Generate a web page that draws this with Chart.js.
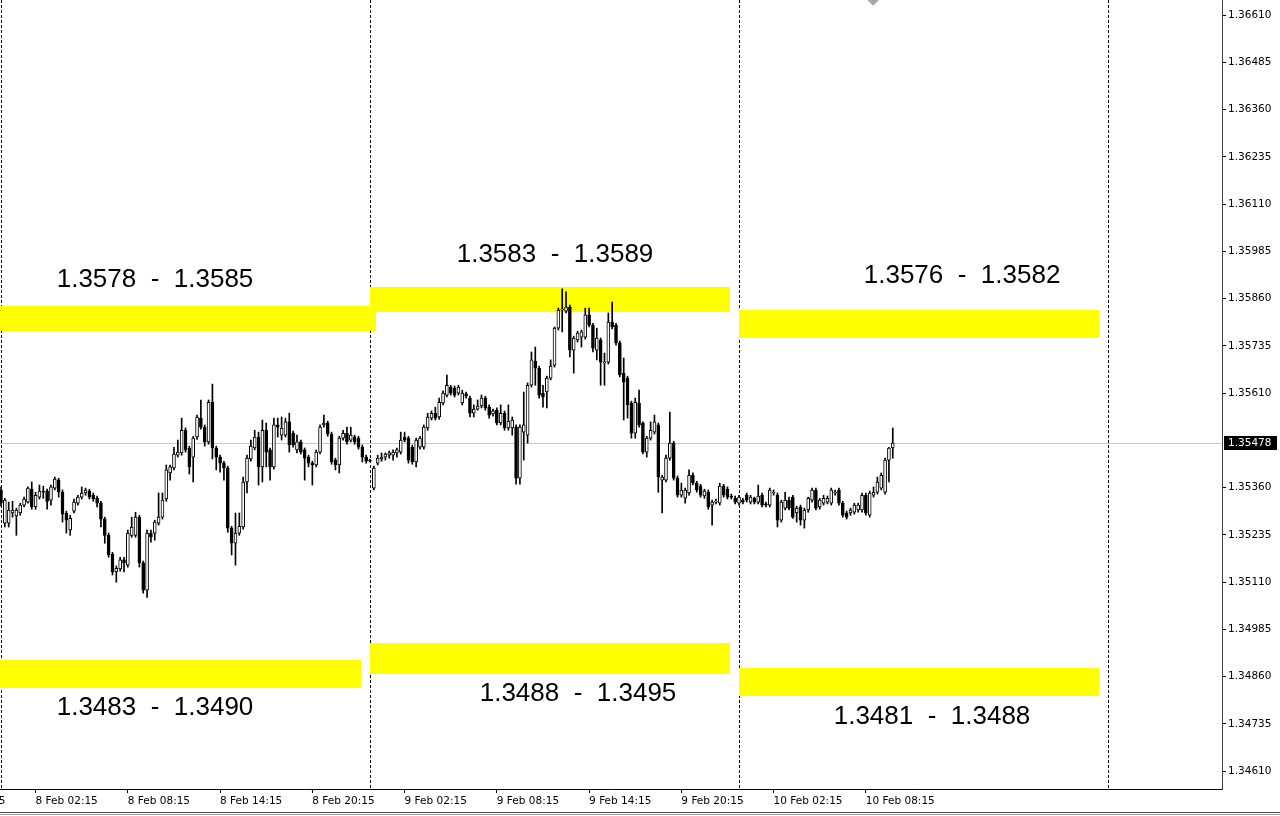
<!DOCTYPE html>
<html><head><meta charset="utf-8">
<script src="https://cdn.jsdelivr.net/npm/chart.js@4.4.1/dist/chart.umd.min.js"></script>
<style>html,body{margin:0;padding:0;background:#fff;overflow:hidden}#wrap{position:relative;width:1280px;height:816px}</style>
</head><body><div id="wrap"><canvas id="c" width="1280" height="816"></canvas></div>
<script>
// ---- M15 candles, 8 Feb 00:00 onward (index 0 = 8 Feb 00:00) ----
const opens = [1.35354,1.35266,1.35266,1.35293,1.35285,1.35293,1.35314,1.35322,1.35356,1.35309,
1.35335,1.35351,1.35351,1.35327,1.35359,1.35380,1.35348,1.35293,1.35248,1.35298,
1.35319,1.35335,1.35346,1.35351,1.35340,1.35332,1.35319,1.35277,1.35234,1.35184,
1.35137,1.35145,1.35169,1.35155,1.35234,1.35234,1.35282,1.35161,1.35089,1.35240,
1.35240,1.35266,1.35282,1.35330,1.35399,1.35412,1.35446,1.35452,1.35512,1.35465,
1.35441,1.35494,1.35544,1.35520,1.35481,1.35586,1.35465,1.35441,1.35425,1.35412,
1.35253,1.35213,1.35240,1.35256,1.35375,1.35436,1.35465,1.35494,1.35415,1.35512,
1.35460,1.35415,1.35526,1.35499,1.35499,1.35534,1.35504,1.35460,1.35481,1.35460,
1.35441,1.35425,1.35420,1.35454,1.35526,1.35531,1.35502,1.35433,1.35420,1.35491,
1.35504,1.35486,1.35494,1.35491,1.35467,1.35441,1.35433,1.35359,1.35425,1.35436,
1.35441,1.35446,1.35446,1.35452,1.35454,1.35494,1.35491,1.35467,1.35428,1.35467,
1.35467,1.35518,1.35544,1.35557,1.35547,1.35584,1.35605,1.35626,1.35623,1.35610,
1.35584,1.35608,1.35597,1.35557,1.35568,1.35576,1.35597,1.35573,1.35555,1.35565,
1.35531,1.35557,1.35518,1.35518,1.35520,1.35385,1.35507,1.35499,1.35631,1.35695,
1.35676,1.35610,1.35613,1.35650,1.35684,1.35782,1.35830,1.35827,1.35838,1.35724,
1.35751,1.35758,1.35758,1.35817,1.35790,1.35724,1.35751,1.35690,1.35692,1.35798,
1.35790,1.35743,1.35663,1.35650,1.35584,1.35504,1.35584,1.35531,1.35454,1.35491,
1.35507,1.35526,1.35380,1.35380,1.35438,1.35478,1.35385,1.35340,1.35332,1.35346,
1.35393,1.35372,1.35364,1.35338,1.35348,1.35314,1.35322,1.35319,1.35364,1.35356,
1.35338,1.35332,1.35319,1.35327,1.35340,1.35322,1.35332,1.35322,1.35340,1.35317,
1.35314,1.35346,1.35340,1.35274,1.35306,1.35327,1.35335,1.35293,1.35309,1.35274,
1.35301,1.35327,1.35354,1.35309,1.35319,1.35322,1.35319,1.35346,1.35354,1.35319,
1.35293,1.35293,1.35295,1.35301,1.35301,1.35340,1.35287,1.35340,1.35348,1.35359,
1.35348,1.35433,1.35465];
const highs = [1.35362,1.35332,1.35322,1.35324,1.35306,1.35319,1.35335,1.35362,1.35375,1.35348,
1.35367,1.35364,1.35356,1.35367,1.35388,1.35385,1.35354,1.35298,1.35287,1.35330,
1.35340,1.35362,1.35359,1.35356,1.35346,1.35338,1.35324,1.35282,1.35240,1.35189,
1.35153,1.35176,1.35176,1.35248,1.35282,1.35295,1.35287,1.35166,1.35248,1.35248,
1.35274,1.35346,1.35346,1.35420,1.35420,1.35467,1.35486,1.35544,1.35518,1.35470,
1.35496,1.35552,1.35592,1.35526,1.35592,1.35634,1.35470,1.35446,1.35430,1.35417,
1.35258,1.35293,1.35293,1.35388,1.35446,1.35486,1.35512,1.35507,1.35539,1.35531,
1.35465,1.35544,1.35544,1.35547,1.35544,1.35557,1.35510,1.35499,1.35486,1.35465,
1.35446,1.35430,1.35460,1.35526,1.35552,1.35536,1.35507,1.35438,1.35496,1.35512,
1.35520,1.35520,1.35499,1.35496,1.35473,1.35446,1.35436,1.35417,1.35446,1.35452,
1.35452,1.35457,1.35460,1.35465,1.35507,1.35507,1.35496,1.35473,1.35491,1.35496,
1.35526,1.35557,1.35563,1.35573,1.35597,1.35616,1.35658,1.35631,1.35629,1.35631,
1.35618,1.35613,1.35602,1.35579,1.35592,1.35605,1.35602,1.35579,1.35568,1.35571,
1.35579,1.35563,1.35579,1.35547,1.35526,1.35526,1.35613,1.35637,1.35719,1.35732,
1.35682,1.35631,1.35655,1.35698,1.35785,1.35835,1.35886,1.35878,1.35843,1.35761,
1.35774,1.35777,1.35835,1.35835,1.35795,1.35782,1.35756,1.35716,1.35822,1.35851,
1.35795,1.35748,1.35703,1.35655,1.35589,1.35597,1.35618,1.35534,1.35496,1.35534,
1.35552,1.35531,1.35393,1.35446,1.35560,1.35483,1.35391,1.35372,1.35359,1.35407,
1.35399,1.35377,1.35369,1.35356,1.35354,1.35327,1.35330,1.35372,1.35369,1.35362,
1.35343,1.35338,1.35340,1.35332,1.35346,1.35340,1.35335,1.35367,1.35346,1.35322,
1.35359,1.35354,1.35346,1.35327,1.35348,1.35335,1.35340,1.35311,1.35314,1.35306,
1.35335,1.35359,1.35359,1.35332,1.35340,1.35338,1.35359,1.35354,1.35359,1.35324,
1.35298,1.35306,1.35319,1.35319,1.35346,1.35346,1.35351,1.35362,1.35388,1.35399,
1.35438,1.35467,1.35518];
const lows = [1.35311,1.35256,1.35256,1.35282,1.35234,1.35287,1.35309,1.35319,1.35303,1.35303,
1.35330,1.35332,1.35303,1.35314,1.35354,1.35335,1.35269,1.35240,1.35234,1.35293,
1.35314,1.35330,1.35340,1.35330,1.35324,1.35309,1.35256,1.35213,1.35176,1.35129,
1.35110,1.35139,1.35137,1.35150,1.35229,1.35229,1.35150,1.35081,1.35070,1.35216,
1.35221,1.35261,1.35277,1.35324,1.35380,1.35407,1.35441,1.35446,1.35454,1.35396,
1.35375,1.35488,1.35515,1.35470,1.35475,1.35436,1.35407,1.35401,1.35380,1.35242,
1.35182,1.35155,1.35234,1.35250,1.35346,1.35430,1.35460,1.35367,1.35375,1.35415,
1.35380,1.35409,1.35494,1.35486,1.35494,1.35454,1.35467,1.35452,1.35449,1.35380,
1.35415,1.35367,1.35415,1.35449,1.35520,1.35496,1.35422,1.35407,1.35399,1.35486,
1.35475,1.35481,1.35475,1.35462,1.35428,1.35425,1.35428,1.35354,1.35420,1.35430,
1.35433,1.35438,1.35433,1.35441,1.35449,1.35481,1.35425,1.35422,1.35415,1.35462,
1.35462,1.35512,1.35539,1.35539,1.35541,1.35579,1.35600,1.35605,1.35600,1.35605,
1.35579,1.35597,1.35547,1.35547,1.35565,1.35571,1.35565,1.35544,1.35549,1.35526,
1.35526,1.35512,1.35512,1.35499,1.35369,1.35369,1.35433,1.35478,1.35626,1.35631,
1.35597,1.35573,1.35571,1.35645,1.35679,1.35777,1.35772,1.35822,1.35706,1.35663,
1.35745,1.35732,1.35753,1.35785,1.35719,1.35698,1.35631,1.35631,1.35687,1.35780,
1.35737,1.35653,1.35539,1.35544,1.35491,1.35491,1.35520,1.35449,1.35441,1.35486,
1.35502,1.35348,1.35293,1.35375,1.35433,1.35380,1.35335,1.35335,1.35319,1.35340,
1.35367,1.35348,1.35335,1.35332,1.35303,1.35261,1.35317,1.35314,1.35335,1.35330,
1.35330,1.35317,1.35314,1.35317,1.35322,1.35317,1.35317,1.35317,1.35309,1.35309,
1.35309,1.35340,1.35256,1.35269,1.35301,1.35301,1.35279,1.35269,1.35261,1.35253,
1.35295,1.35322,1.35301,1.35303,1.35314,1.35317,1.35314,1.35340,1.35314,1.35282,
1.35277,1.35287,1.35290,1.35295,1.35295,1.35287,1.35282,1.35335,1.35343,1.35354,
1.35343,1.35375,1.35438];
const closes = [1.35319,1.35327,1.35301,1.35301,1.35301,1.35314,1.35330,1.35359,1.35309,1.35340,
1.35351,1.35348,1.35324,1.35362,1.35383,1.35348,1.35290,1.35274,1.35279,1.35322,
1.35335,1.35346,1.35354,1.35335,1.35330,1.35319,1.35277,1.35234,1.35182,1.35137,
1.35147,1.35169,1.35161,1.35240,1.35256,1.35282,1.35161,1.35089,1.35240,1.35229,
1.35269,1.35282,1.35327,1.35407,1.35415,1.35449,1.35454,1.35512,1.35460,1.35415,
1.35491,1.35547,1.35520,1.35481,1.35586,1.35465,1.35441,1.35425,1.35412,1.35253,
1.35213,1.35240,1.35258,1.35375,1.35438,1.35470,1.35494,1.35415,1.35512,1.35454,
1.35415,1.35526,1.35520,1.35518,1.35534,1.35473,1.35473,1.35481,1.35454,1.35438,
1.35425,1.35420,1.35454,1.35520,1.35531,1.35502,1.35428,1.35420,1.35491,1.35504,
1.35481,1.35499,1.35481,1.35467,1.35441,1.35430,1.35430,1.35412,1.35438,1.35441,
1.35449,1.35452,1.35454,1.35460,1.35486,1.35486,1.35433,1.35428,1.35486,1.35491,
1.35520,1.35547,1.35557,1.35544,1.35586,1.35610,1.35631,1.35610,1.35605,1.35626,
1.35610,1.35602,1.35557,1.35568,1.35576,1.35597,1.35571,1.35552,1.35563,1.35531,
1.35557,1.35518,1.35536,1.35539,1.35385,1.35520,1.35526,1.35631,1.35698,1.35676,
1.35605,1.35600,1.35650,1.35682,1.35782,1.35830,1.35833,1.35838,1.35724,1.35756,
1.35769,1.35772,1.35817,1.35790,1.35729,1.35756,1.35692,1.35692,1.35798,1.35785,
1.35743,1.35658,1.35639,1.35579,1.35504,1.35586,1.35526,1.35454,1.35491,1.35512,
1.35534,1.35388,1.35388,1.35438,1.35478,1.35385,1.35340,1.35354,1.35354,1.35393,
1.35372,1.35354,1.35340,1.35351,1.35309,1.35322,1.35324,1.35364,1.35340,1.35335,
1.35335,1.35322,1.35335,1.35322,1.35327,1.35335,1.35322,1.35338,1.35314,1.35314,
1.35354,1.35348,1.35274,1.35322,1.35327,1.35306,1.35282,1.35306,1.35274,1.35301,
1.35332,1.35354,1.35306,1.35327,1.35332,1.35332,1.35354,1.35348,1.35319,1.35287,
1.35282,1.35301,1.35314,1.35314,1.35340,1.35293,1.35346,1.35348,1.35375,1.35393,
1.35433,1.35465,1.35478];

// ---- axes ----
const yTickValues = [1.36610,1.36485,1.36360,1.36235,1.36110,1.35985,1.35860,1.35735,1.35610,
  1.35360,1.35235,1.35110,1.34985,1.34860,1.34735,1.34610];
const xTickIndex  = [-15, 9, 33, 57, 81, 105, 129, 153, 177, 201, 225];
const xTickLabels = ['7 Feb 20:15','8 Feb 02:15','8 Feb 08:15','8 Feb 14:15','8 Feb 20:15',
  '9 Feb 02:15','9 Feb 08:15','9 Feb 14:15','9 Feb 20:15','10 Feb 02:15','10 Feb 08:15'];
const daySeparators = [0, 96, 192, 288];
const currentPrice = 1.35478;

// ---- support / resistance zones ----
const zoneHigh  = [1.35841, 1.34904, 1.35891, 1.34949, 1.35830, 1.34883];
const zoneLow   = [1.35774, 1.34830, 1.35825, 1.34867, 1.35756, 1.34809];
const zoneTexts = ['1.3578  -  1.3585','1.3483  -  1.3490','1.3583  -  1.3589',
                   '1.3488  -  1.3495','1.3576  -  1.3582','1.3481  -  1.3488'];

// layout of annotation objects (index / price anchors)
const layoutCfg = {
  zoneFrom: [-2, -2, 96.0, 96.0, 192.0, 192.0],
  zoneTo:   [97.6, 93.7, 189.7, 189.7, 285.7, 285.7],
  textAtIndex: [40.07, 40.07, 144.13, 150.11, 250.02, 242.21],
  textAtPrice: [1.35914, 1.34782, 1.35981, 1.34819, 1.35925, 1.34759],
  textDy: 2,
  arrow: {index: 226.9, price: 1.36653}
};

const FONT = 'DejaVu Sans';
const idx = opens.map((_, i) => i);

const overlay = {
  id: 'overlay',
  beforeDatasetsDraw(chart) {
    const {ctx, chartArea: a, scales: {x, y}} = chart;
    ctx.save();
    ctx.beginPath(); ctx.rect(a.left, a.top, a.right - a.left, a.bottom - a.top); ctx.clip();
    const py = Math.round(y.getPixelForValue(currentPrice)) + 0.5;
    ctx.strokeStyle = '#c8c8c8'; ctx.lineWidth = 1;
    ctx.beginPath(); ctx.moveTo(a.left, py); ctx.lineTo(a.right, py); ctx.stroke();
    ctx.strokeStyle = '#000'; ctx.setLineDash([3, 2]);
    daySeparators.forEach(i => {
      const px = Math.round(x.getPixelForValue(i)) + 0.5;
      ctx.beginPath(); ctx.moveTo(px, a.top); ctx.lineTo(px, a.bottom); ctx.stroke();
    });
    ctx.setLineDash([]);
    ctx.fillStyle = '#ffff00';
    zoneHigh.forEach((hi, k) => {
      const x0 = Math.round(x.getPixelForValue(layoutCfg.zoneFrom[k]));
      const x1 = Math.round(x.getPixelForValue(layoutCfg.zoneTo[k]));
      const y0 = Math.round(y.getPixelForValue(hi));
      const y1 = Math.round(y.getPixelForValue(zoneLow[k]));
      ctx.fillRect(x0, y0, x1 - x0, y1 - y0);
    });
    ctx.restore();
  },
  afterDatasetsDraw(chart) {
    const {ctx, chartArea: a, scales: {x, y}} = chart;
    ctx.save();
    ctx.beginPath(); ctx.rect(a.left, a.top, a.right - a.left, a.bottom - a.top); ctx.clip();
    ctx.fillStyle = '#000';
    ctx.font = '26px "Liberation Sans", Arial, sans-serif';
    ctx.textAlign = 'center'; ctx.textBaseline = 'middle';
    zoneTexts.forEach((t, k) => {
      ctx.fillText(t, x.getPixelForValue(layoutCfg.textAtIndex[k]),
        y.getPixelForValue(layoutCfg.textAtPrice[k]) + layoutCfg.textDy);
    });
    const ax = x.getPixelForValue(layoutCfg.arrow.index), ay = y.getPixelForValue(layoutCfg.arrow.price);
    ctx.fillStyle = '#a8a8a8';
    ctx.beginPath(); ctx.moveTo(ax - 7, ay); ctx.lineTo(ax, ay - 7); ctx.lineTo(ax + 7, ay); ctx.lineTo(ax, ay + 7); ctx.closePath(); ctx.fill();
    ctx.restore();
  },
  afterDraw(chart) {
    const {ctx, chartArea: a, scales: {y}} = chart;
    ctx.save();
    const py = Math.round(y.getPixelForValue(currentPrice));
    ctx.fillStyle = '#000';
    ctx.fillRect(a.right + 2, py - 7, 53, 14);
    ctx.fillStyle = '#fff';
    ctx.font = '10.5px "' + FONT + '"';
    ctx.textAlign = 'left'; ctx.textBaseline = 'middle';
    ctx.fillText(currentPrice.toFixed(5), a.right + 6, py + 0.5);
    ctx.fillStyle = '#505050'; ctx.fillRect(0, 812, chart.width, 1);
    ctx.fillStyle = '#a0a0a0'; ctx.fillRect(0, 814, chart.width, 1);
    ctx.restore();
  }
};

new Chart(document.getElementById('c'), {
  type: 'bar',
  data: {
    datasets: [
      {
        label: 'wick',
        data: idx.map(i => ({x: i, y: [lows[i], highs[i]]})),
        backgroundColor: '#000',
        barThickness: 1,
        grouped: false,
        order: 2
      },
      {
        label: 'body',
        data: idx.map(i => ({x: i, y: [opens[i], closes[i]]})),
        backgroundColor: c => closes[c.dataIndex] > opens[c.dataIndex] ? '#ffffff' : '#000000',
        borderColor: '#000',
        borderWidth: 1,
        borderSkipped: false,
        barThickness: 3,
        minBarLength: 1,
        grouped: false,
        order: 1
      }
    ]
  },
  options: {
    responsive: false,
    animation: false,
    devicePixelRatio: 1,
    layout: {padding: 0},
    plugins: {legend: {display: false}, tooltip: {enabled: false}},
    scales: {
      x: {
        type: 'linear', min: -0.26, max: 317.65, offset: false, bounds: 'data',
        afterBuildTicks: ax => { ax.ticks = xTickIndex.map(v => ({value: v})); },
        afterFit: ax => { ax.height = 27; ax.paddingLeft = 0; ax.paddingRight = 0; ax.paddingTop = 0; ax.paddingBottom = 0; },
        grid: {display: true, drawOnChartArea: false, drawTicks: true, tickLength: 4, tickColor: '#000', offset: false},
        border: {display: true, color: '#000', width: 1},
        ticks: {
          autoSkip: false, maxRotation: 0, minRotation: 0, align: 'start', padding: 2, color: '#000',
          font: {family: FONT, size: 10.5},
          callback: v => { const k = xTickIndex.indexOf(v); return k < 0 ? '' : xTickLabels[k]; }
        }
      },
      y: {
        type: 'linear', position: 'right', min: 1.34563, max: 1.36650, bounds: 'data',
        afterBuildTicks: ax => { ax.ticks = yTickValues.map(v => ({value: v})); },
        afterFit: ax => { ax.width = 58; ax.paddingTop = 0; ax.paddingBottom = 0; ax.paddingLeft = 0; ax.paddingRight = 0; },
        grid: {display: true, drawOnChartArea: false, drawTicks: true, tickLength: 4, tickColor: '#000'},
        border: {display: true, color: '#444', width: 1},
        ticks: {padding: 2, color: '#000', font: {family: FONT, size: 10.5}, callback: v => Number(v).toFixed(5)}
      }
    }
  },
  plugins: [overlay]
});
</script></body></html>
